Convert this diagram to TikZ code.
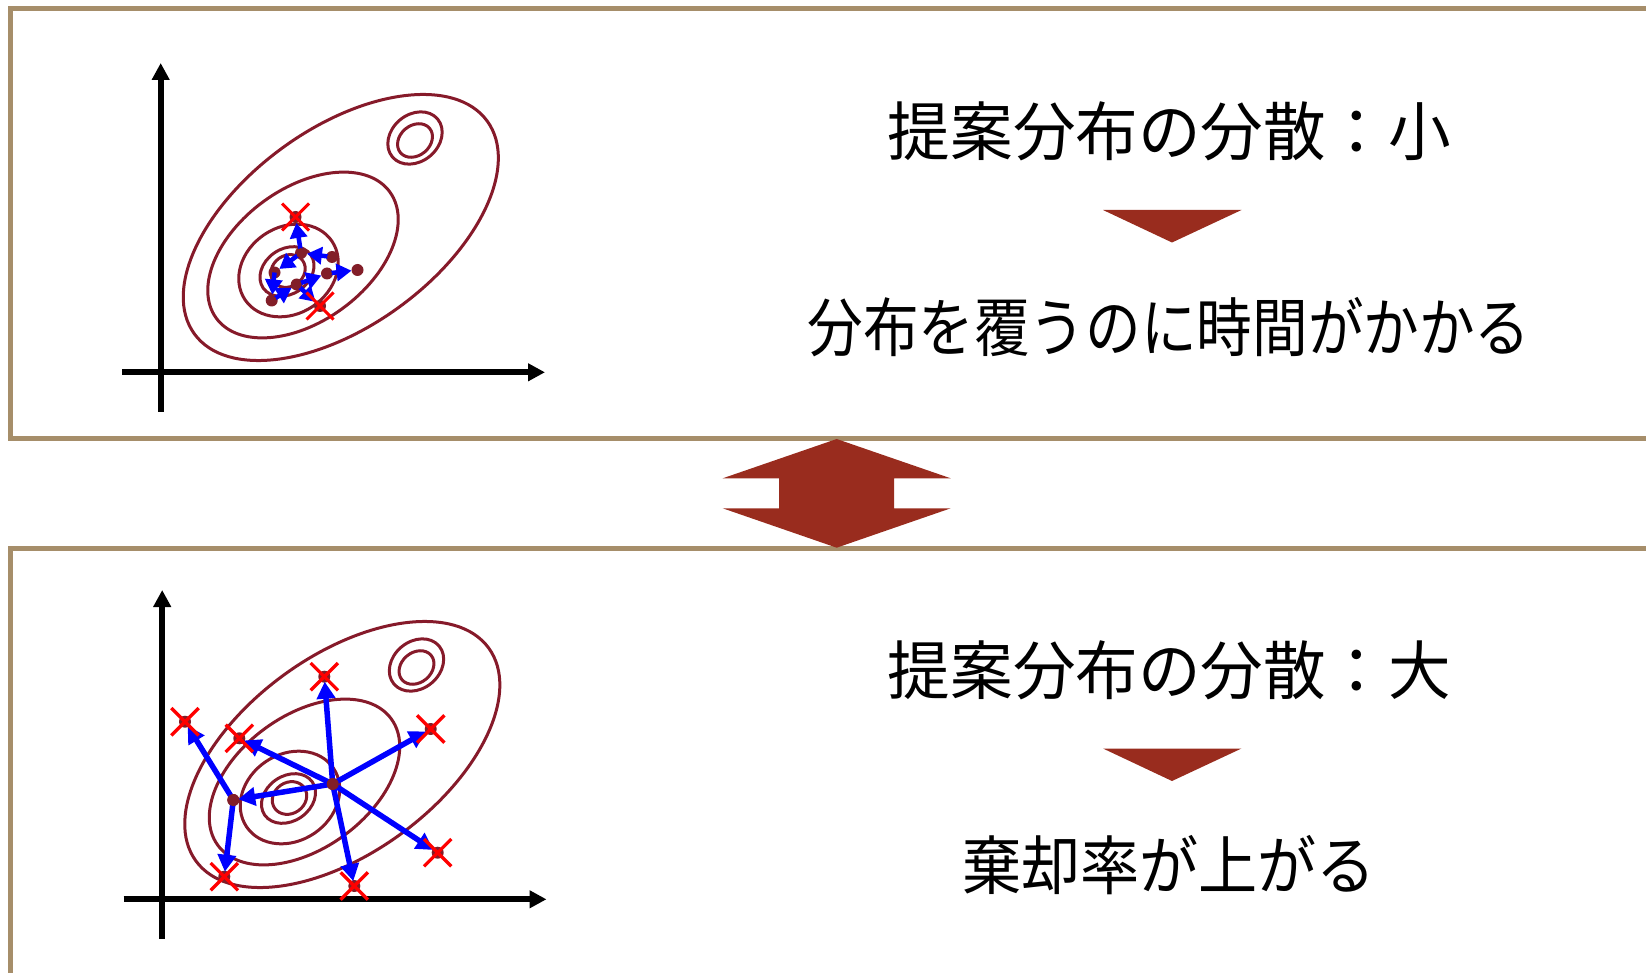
\documentclass[tikz,border=0pt]{standalone}
\usepackage{graphicx}
\usepackage{fontspec}
\newfontfamily\jpfont{Noto Sans CJK JP}
\usetikzlibrary{arrows.meta,shapes.misc}
\definecolor{framecol}{RGB}{166,142,106}
\definecolor{contcol}{RGB}{134,26,42}
\definecolor{dotcol}{RGB}{130,30,40}
\definecolor{bigred}{RGB}{153,44,30}
\tikzset{
  frame/.style={draw=framecol,line width=5pt},
  cont/.style={draw=contcol,line width=3pt},
  axisline/.style={line width=6pt,-{Triangle[length=17pt,width=17pt]}},
  dotS/.style={circle,fill=dotcol,inner sep=0pt,minimum size=12pt},
  dotB/.style={circle,fill=dotcol,inner sep=0pt,minimum size=12pt},
  crossS/.style={cross out,draw=red,line width=3pt,inner sep=0pt,minimum size=24pt},
  crossB/.style={cross out,draw=red,line width=3.3pt,inner sep=0pt,minimum size=24pt},
  arrS/.style={draw=blue,line width=4.5pt,-{Triangle[length=15pt,width=17pt]},shorten >=6pt},
  arrB/.style={draw=blue,line width=5.5pt,-{Triangle[length=17pt,width=18pt]},shorten >=5pt},
  txt/.style={font=\jpfont\fontsize{64}{64}\selectfont,inner sep=0pt}
}
\newcommand\mhell[5]{\draw[cont,shift={(#1,#2)},rotate=#5] (0,0) ellipse [x radius=#3pt,y radius=#4pt];}
\newcommand\mhplot{%
  \mhell{340.8}{227.5}{181}{98.7}{36}
  \mhell{303}{255}{107.3}{66.5}{36}
  \mhell{288.5}{270.5}{52.4}{43.3}{34}
  \mhell{287}{271.5}{29}{22.5}{35}
  \mhell{288}{271}{18}{15.5}{35}
  \mhell{415}{138}{29.5}{23.5}{40}
  \mhell{415}{140.5}{19}{15}{40}
  \draw[axisline] (160.7,411.7) -- (160.7,63);
  \draw[axisline] (122,372.3) -- (545,372.3);
}
\begin{document}
\begin{tikzpicture}[x=1pt,y=-1pt]
\useasboundingbox (0,0) rectangle (1646,973);
\clip (0,0) rectangle (1646,973);
% frames
\draw[frame] (10,9) rectangle (1665,438);
\draw[frame] (10,548) rectangle (1665,995);
% double arrow
\fill[bigred] (836.7,439) -- (950.7,478.3) -- (894,478.3) -- (894,508.3) -- (950.7,508.3)
  -- (836.7,547.7) -- (722.7,508.3) -- (779,508.3) -- (779,478.3) -- (722.7,478.3) -- cycle;
% texts
\node[txt] (t1) at (1169.5,131) {\scalebox{0.978}[1]{提案分布の分散：小}};
\node[txt] (t2) at (1169,327) {\scalebox{0.869}[1]{分布を覆うのに時間がかかる}};
\node[txt] (t3) at (1169.5,670) {\scalebox{0.978}[1]{提案分布の分散：大}};
\node[txt] (t4) at (1169,865) {\scalebox{0.924}[1]{棄却率が上がる}};
\fill[bigred] (1103,210) -- (1241.5,210) -- (1172,242.5) -- cycle;
\fill[bigred] (1103,748.5) -- (1241.5,748.5) -- (1172,781) -- cycle;
% plots
\begin{scope}
  \mhplot
\end{scope}
\begin{scope}[shift={(1.5,527)}]
  \mhplot
\end{scope}
% top plot points
\node[dotS] (p1) at (301,253) {};
\node[dotS] (p2) at (332,257) {};
\node[dotS] (p3) at (357.5,270) {};
\node[dotS] (p4) at (327,273.5) {};
\node[dotS] (p5) at (274.5,272.5) {};
\node[dotS] (p6) at (296.7,284.5) {};
\node[dotS] (p7) at (271.7,300.5) {};
\node[dotS] (xt) at (295.5,217) {};
\node[dotS] (xb) at (320,306) {};
\draw[arrS] (p2.center) -- (p1.center);
\draw[arrS] (p1.center) -- (xt.center);
\draw[arrS] (p1.center) -- (p5.center);
\draw[arrS] (p5.center) -- (p7.center);
\draw[arrS] (p7.center) -- (p6.center);
\draw[arrS] (p6.center) -- (xb.center);
\draw[arrS] (p6.center) -- (p4.center);
\draw[arrS] (p4.center) -- (p3.center);
\foreach \n in {p1,p2,p4,p6,p7}{ \fill[dotcol] (\n) circle (5pt); }
\node[crossS] (xtc) at (xt) {};
\node[crossS] (xbc) at (xb) {};
% bottom plot points
\node[dotB] (c1) at (332.7,784) {};
\node[dotB] (c2) at (233.3,800) {};
\foreach \n/\px/\py in {a/324.3/676.7, b/239.3/738.3, c/430.7/729, d/437.7/852.7, e/354.3/886, f/185/721.7, g/224.3/876.7}{
  \node[dotB] (q\n) at (\px,\py) {};
}
\foreach \n in {a,b,c,d,e}{ \draw[arrB] (c1.center) -- (q\n.center); }
\draw[arrB] (c1.center) -- (c2.center);
\foreach \n in {f,g}{ \draw[arrB] (c2.center) -- (q\n.center); }
\fill[dotcol] (c1) circle (6pt);
\fill[dotcol] (c2) circle (6pt);
\foreach \n in {a,b,c,d,e,f,g}{ \node[crossB] (r\n) at (q\n) {}; }
\end{tikzpicture}
\end{document}
